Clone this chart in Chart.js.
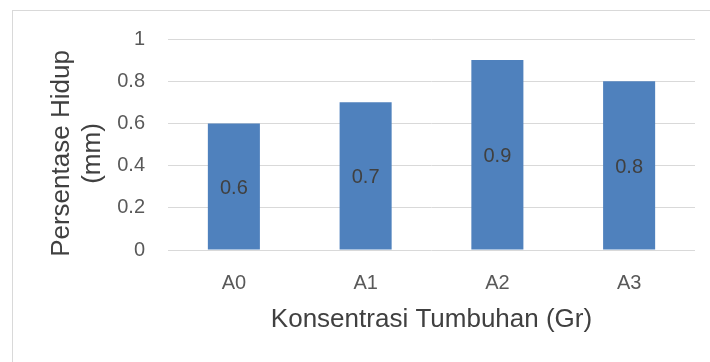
<!DOCTYPE html>
<html>
<head>
<meta charset="utf-8">
<script src="https://cdn.jsdelivr.net/npm/chart.js@4"></script>
<style>
  html, body { margin: 0; padding: 0; background: #fff; }
  #wrap { position: relative; width: 710px; height: 362px; overflow: hidden; }
  #frame { position: absolute; left: 12px; top: 10px; width: 760px; height: 420px; border: 1px solid #d9d9d9; }
  canvas { position: absolute; left: 0; top: 0; }
</style>
</head>
<body>
<div id="wrap">
  <div id="frame"></div>
  <canvas id="chart" width="710" height="362"></canvas>
</div>
<script>
const categories = ["A0", "A1", "A2", "A3"];
const values = [0.6, 0.7, 0.9, 0.8];
const yTicks = [0, 0.2, 0.4, 0.6, 0.8, 1];
const xTitle = "Konsentrasi Tumbuhan (Gr)";
const yTitle = ["Persentase Hidup", "(mm)"];

const FONT = "'Liberation Sans', Arial, sans-serif";

// value labels in the middle of each bar
const barLabels = {
  id: "barLabels",
  afterDatasetsDraw(chart) {
    const ctx = chart.ctx;
    const meta = chart.getDatasetMeta(0);
    ctx.save();
    ctx.font = "20px " + FONT;
    ctx.fillStyle = "#404040";
    ctx.textAlign = "center";
    ctx.textBaseline = "middle";
    meta.data.forEach((bar, i) => {
      const { x, y, base } = bar.getProps(["x", "y", "base"], true);
      ctx.fillText(String(values[i]), x, (y + base) / 2 + 2);
    });
    ctx.restore();
  },
};

// two-line y title, sat a bit below the middle of the plot like the original
const yAxisTitle = {
  id: "yAxisTitle",
  afterDraw(chart) {
    const { ctx, chartArea } = chart;
    ctx.save();
    ctx.translate(62, (chartArea.top + chartArea.bottom) / 2 + 9);
    ctx.rotate(-Math.PI / 2);
    ctx.font = "26px " + FONT;
    ctx.fillStyle = "#404040";
    ctx.textAlign = "center";
    ctx.textBaseline = "middle";
    yTitle.forEach((line, i) => ctx.fillText(line, 0, i * 31));
    ctx.restore();
  },
};

new Chart(document.getElementById("chart"), {
  type: "bar",
  data: {
    labels: categories,
    datasets: [
      {
        data: values,
        backgroundColor: "#4f81bd",
        categoryPercentage: 1,
        barPercentage: 0.395,
      },
    ],
  },
  options: {
    responsive: false,
    animation: false,
    layout: { padding: { left: 0, right: 15, top: 39, bottom: 0 } },
    plugins: { legend: { display: false }, tooltip: { enabled: false } },
    scales: {
      x: {
        grid: { display: false },
        border: { display: false },
        ticks: { color: "#595959", font: { family: FONT, size: 20 }, padding: 13 },
        title: {
          display: true,
          text: xTitle,
          color: "#404040",
          font: { family: FONT, size: 26 },
          padding: { top: 0, bottom: 27 },
        },
        afterFit(s) { s.height = 112; },
      },
      y: {
        min: 0,
        max: 1,
        afterBuildTicks(s) { s.ticks = yTicks.map((v) => ({ value: v })); },
        grid: { color: "#d9d9d9", drawTicks: false },
        border: { display: false },
        ticks: {
          color: "#595959",
          font: { family: FONT, size: 20 },
          padding: 23,
          callback: (v) => String(v),
        },
        afterFit(s) { s.width = 168; },
      },
    },
  },
  plugins: [barLabels, yAxisTitle],
});
</script>
</body>
</html>
